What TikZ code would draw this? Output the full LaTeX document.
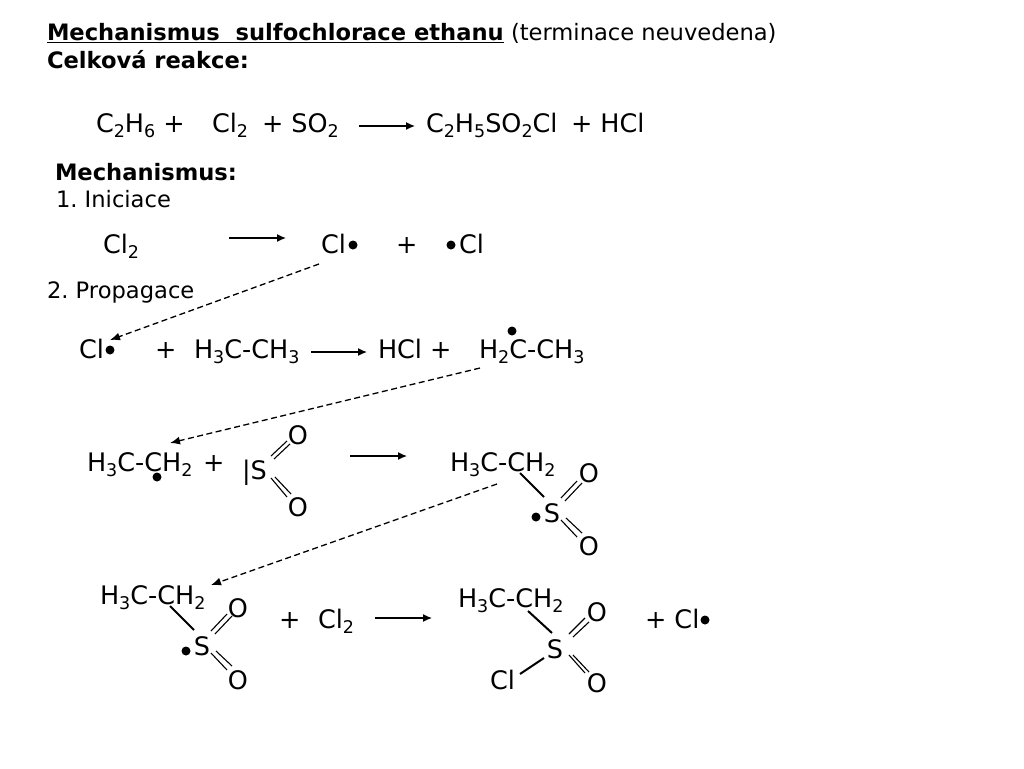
\documentclass[tikz,border=0pt]{standalone}
\usepackage{fontspec}
\setmainfont{DejaVu Sans}
\frenchspacing
\usetikzlibrary{arrows.meta}
\newcommand\sbs[1]{\raisebox{-5pt}{\fontsize{17.5}{17.5}\selectfont #1}}
\tikzset{
  x=1pt,y=-1pt,
  chem/.style={anchor=base west,inner sep=0pt,outer sep=0pt,font=\fontsize{25.5}{28}\selectfont},
  chemc/.style={anchor=base,inner sep=0pt,outer sep=0pt,yshift=-1pt,font=\fontsize{25.5}{28}\selectfont},
  txtl/.style={anchor=base west,inner sep=0pt,outer sep=0pt,yshift=-0.7pt,font=\fontsize{22.6}{25}\selectfont},
  raddot/.style={circle,fill=black,inner sep=0pt,outer sep=0pt,minimum size=9pt},
  rxn/.style={line width=1.3pt,-{Latex[length=9pt,width=8pt]}},
  dasharrow/.style={line width=1.3pt,dash pattern=on 6pt off 3.5pt,-{Latex[length=10pt,width=8pt]}},
  bond/.style={line width=2pt},
  dbl/.style={line width=1.1pt}
}
\begin{document}
\begin{tikzpicture}
\useasboundingbox (0,0) rectangle (1024,768);
% headings
\node[txtl] (h1) at (47,40) {\underline{\textbf{Mechanismus\ \ sulfochlorace ethanu}}};
\node[txtl] (h1b) at (511,40) {(terminace neuvedena)};
\node[txtl] (h2) at (47,68) {\textbf{Celková reakce:}};
% overall
\node[chem] (a1) at (96,132) {C\sbs{2}H\sbs{6} +};
\node[chem] (a2) at (212,132) {Cl\sbs{2}};
\node[chem] (a3) at (262,132) {+ SO\sbs{2}};
\coordinate (ra1) at (359,126); \coordinate (ra2) at (415,126);
\draw[rxn] (ra1) -- (ra2);
\node[chem] (a4) at (426,132) {C\sbs{2}H\sbs{5}SO\sbs{2}Cl};
\node[chem] (a5) at (571,132) {+ HCl};
\node[txtl] (m1) at (55,180) {\textbf{Mechanismus:}};
\node[txtl] (m2) at (56,207) {1. Iniciace};
% initiation
\node[chem] (b1) at (103,253) {Cl\sbs{2}};
\coordinate (rb1) at (229,238); \coordinate (rb2) at (286,238);
\draw[rxn] (rb1) -- (rb2);
\node[chem] (b2) at (321,253) {Cl};
\node[raddot] (bd1) at (353,245) {};
\node[chem] (b3) at (396,253) {+};
\node[raddot] (bd2) at (451,245) {};
\node[chem] (b4) at (459,253) {Cl};
\node[txtl] (m3) at (47,298) {2. Propagace};
% propagation 1
\coordinate (da1) at (319,264); \coordinate (da2) at (110,340);
\draw[dasharrow] (da1) -- (da2);
\node[chem] (c1) at (79,358) {Cl};
\node[raddot] (cd1) at (110,350) {};
\node[chem] (c2) at (155,358) {+};
\node[chem] (c3) at (194,358) {H\sbs{3}C-CH\sbs{3}};
\coordinate (rc1) at (311,352); \coordinate (rc2) at (367,352);
\draw[rxn] (rc1) -- (rc2);
\node[chem] (c4) at (378,358) {HCl +};
\node[chem] (c5) at (479,358) {H\sbs{2}C-CH\sbs{3}};
\node[raddot] (cd2) at (512,331) {};
% propagation 2
\coordinate (db1) at (480,368); \coordinate (db2) at (170,443);
\draw[dasharrow] (db1) -- (db2);
\node[chem] (d1) at (87,471) {H\sbs{3}C-CH\sbs{2}};
\node[raddot] (dd1) at (157,477) {};
\node[chem] (d2) at (203,471) {+};
\node[chem] (d3) at (242,479) {|S};
\node[chemc] (dO1) at (298,443) {O};
\node[chemc] (dO2) at (298,515) {O};
\coordinate (p1) at (271,456); \coordinate (p2) at (287,441);
\coordinate (p3) at (274,459); \coordinate (p4) at (290,444);
\coordinate (p5) at (271,478); \coordinate (p6) at (287,497);
\coordinate (p7) at (275,477); \coordinate (p8) at (291,494);
\draw[dbl] (p1) -- (p2); \draw[dbl] (p3) -- (p4);
\draw[dbl] (p5) -- (p6); \draw[dbl] (p7) -- (p8);
\coordinate (rd1) at (350,456); \coordinate (rd2) at (407,456);
\draw[rxn] (rd1) -- (rd2);
\node[chem] (e1) at (450,471) {H\sbs{3}C-CH\sbs{2}};
\node[chemc] (eS) at (552,521) {S};
\node[chemc] (eO1) at (589,481) {O};
\node[chemc] (eO2) at (589,554) {O};
\node[raddot] (ed1) at (536,517) {};
\coordinate (q0) at (520,473); \coordinate (q00) at (544,497);
\draw[bond] (q0) -- (q00);
\coordinate (q1) at (561,498); \coordinate (q2) at (577,481);
\coordinate (q3) at (565,501); \coordinate (q4) at (582,483);
\coordinate (q5) at (561,520); \coordinate (q6) at (577,537);
\coordinate (q7) at (566,518); \coordinate (q8) at (582,533);
\draw[dbl] (q1) -- (q2); \draw[dbl] (q3) -- (q4);
\draw[dbl] (q5) -- (q6); \draw[dbl] (q7) -- (q8);
% propagation 3
\coordinate (dc1) at (497,484); \coordinate (dc2) at (211,585);
\draw[dasharrow] (dc1) -- (dc2);
\node[chem] (f1) at (100,604) {H\sbs{3}C-CH\sbs{2}};
\node[chemc] (fS) at (202,654) {S};
\node[chemc] (fO1) at (238,616) {O};
\node[chemc] (fO2) at (238,688) {O};
\node[raddot] (fd1) at (186,651) {};
\coordinate (s0) at (170,606); \coordinate (s00) at (194,630);
\draw[bond] (s0) -- (s00);
\coordinate (s1) at (211,631); \coordinate (s2) at (227,614);
\coordinate (s3) at (215,634); \coordinate (s4) at (232,616);
\coordinate (s5) at (211,653); \coordinate (s6) at (227,670);
\coordinate (s7) at (216,651); \coordinate (s8) at (232,666);
\draw[dbl] (s1) -- (s2); \draw[dbl] (s3) -- (s4);
\draw[dbl] (s5) -- (s6); \draw[dbl] (s7) -- (s8);
\node[chem] (f2) at (279,628) {+};
\node[chem] (f3) at (318,628) {Cl\sbs{2}};
\coordinate (rf1) at (375,618); \coordinate (rf2) at (432,618);
\draw[rxn] (rf1) -- (rf2);
\node[chem] (g1) at (458,607) {H\sbs{3}C-CH\sbs{2}};
\node[chemc] (gS) at (555,657) {S};
\node[chemc] (gO1) at (597,620) {O};
\node[chemc] (gO2) at (597,691) {O};
\node[chem] (gCl) at (490,689) {Cl};
\coordinate (t0) at (528,611); \coordinate (t00) at (552,633);
\draw[bond] (t0) -- (t00);
\coordinate (t01) at (520,674); \coordinate (t02) at (544,658);
\draw[bond] (t01) -- (t02);
\coordinate (t1) at (569,634); \coordinate (t2) at (585,618);
\coordinate (t3) at (573,637); \coordinate (t4) at (589,622);
\coordinate (t5) at (569,655); \coordinate (t6) at (585,673);
\coordinate (t7) at (573,655); \coordinate (t8) at (589,672);
\draw[dbl] (t1) -- (t2); \draw[dbl] (t3) -- (t4);
\draw[dbl] (t5) -- (t6); \draw[dbl] (t7) -- (t8);
\node[chem] (g2) at (645,628) {+ Cl};
\node[raddot] (gd1) at (705,620) {};
\end{tikzpicture}
\end{document}
